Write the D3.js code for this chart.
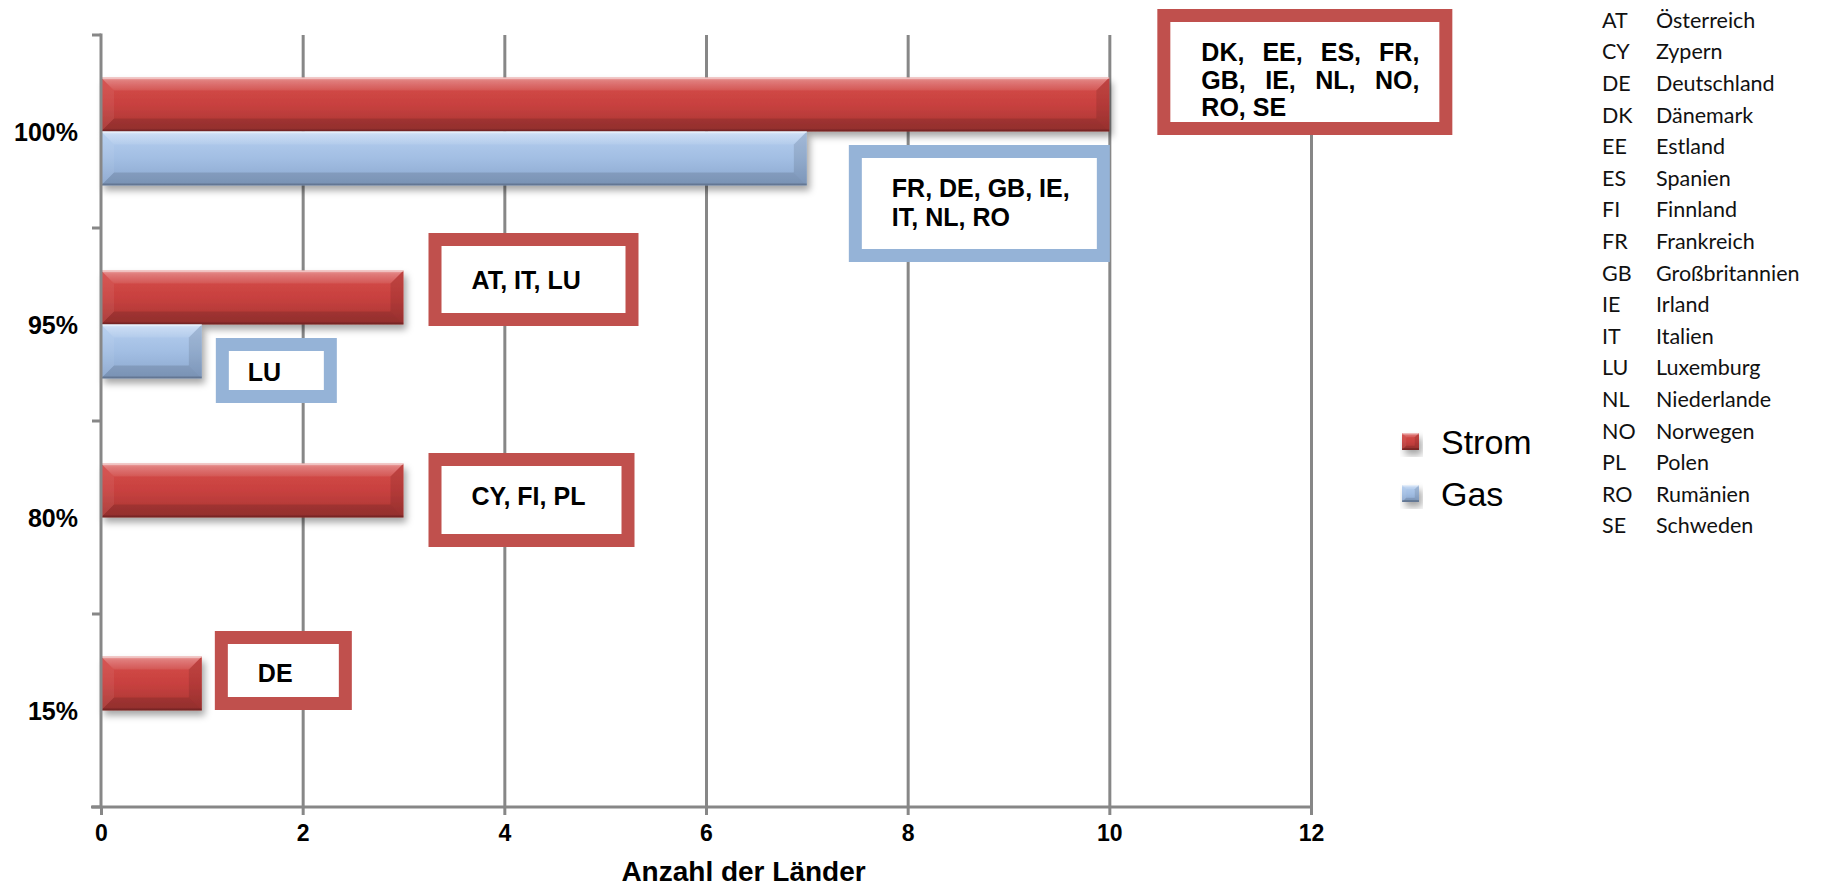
<!DOCTYPE html>
<html>
<head>
<meta charset="utf-8">
<script src="https://cdn.jsdelivr.net/npm/d3@7"></script>
<style>
  body { margin: 0; background: #ffffff; }
  svg { display: block; }
</style>
</head>
<body>
<svg id="chart" width="1823" height="888"></svg>
<script>
// ---- data ----
const categories = ["100%", "95%", "80%", "15%"];
const seriesNames = ["Strom", "Gas"];
const stromValues = [10, 3, 3, 1];
const gasValues = [7, 1, 0, 0];
const xTicks = [0, 2, 4, 6, 8, 10, 12];
const xTitle = "Anzahl der Länder";

// country groups written next to each bar (null = no label)
const stromLabels = [
  ["DK, EE, ES, FR,", "GB, IE, NL, NO,", "RO, SE"],
  ["AT, IT, LU"],
  ["CY, FI, PL"],
  ["DE"]
];
const gasLabels = [
  ["FR, DE, GB, IE,", "IT, NL, RO"],
  ["LU"],
  null,
  null
];

const countryCodes = ["AT", "CY", "DE", "DK", "EE", "ES", "FI", "FR", "GB", "IE", "IT", "LU", "NL", "NO", "PL", "RO", "SE"];
const countryNames = ["Österreich", "Zypern", "Deutschland", "Dänemark", "Estland", "Spanien", "Finnland", "Frankreich",
  "Großbritannien", "Irland", "Italien", "Luxemburg", "Niederlande", "Norwegen", "Polen", "Rumänien", "Schweden"];

// ---- layout & style ----
const plot = { left: 101, right: 1311, top: 35, bottom: 807 };
const axisColor = "#878787";
const boldFont = "'Liberation Sans', Arial, sans-serif";
const palette = {
  Strom: { body: ["#d64d4a", "#c8413f", "#a63533"], box: "#c0504d" },
  Gas:   { body: ["#b6cff0", "#a2bee3", "#8aa6cd"], box: "#95b3d7" }
};
// annotation boxes: offsets from bar end / band top, in px
const boxLayout = {
  "Strom|100%": { dx: 48, dy: -26, w: 295, h: 126, tx: 44, ty: 43, lh: 27.5, justify: 218 },
  "Gas|100%":   { dx: 42, dy: 110, w: 261, h: 117, tx: 43, ty: 43, lh: 29 },
  "Strom|95%":  { dx: 25, dy: 5,   w: 210, h: 93,  tx: 43, ty: 47 },
  "Gas|95%":    { dx: 14, dy: 110, w: 121, h: 65,  tx: 32, ty: 34 },
  "Strom|80%":  { dx: 25, dy: 32,  w: 206, h: 94,  tx: 43, ty: 43 },
  "Strom|15%":  { dx: 13, dy: 17,  w: 137, h: 79,  tx: 43, ty: 42 }
};

const svg = d3.select("#chart");
const defs = svg.append("defs");

const x = d3.scaleLinear().domain([0, 12]).range([plot.left, plot.right]);
const y = d3.scaleBand().domain(categories).range([plot.top, plot.bottom]);
const ys = d3.scaleBand().domain(seriesNames).range([0, y.bandwidth()]).paddingInner(0).paddingOuter(0.787);

// gradients
seriesNames.forEach(s => {
  const g = defs.append("linearGradient").attr("id", "body-" + s)
    .attr("x1", 0).attr("y1", 0).attr("x2", 0).attr("y2", 1);
  palette[s].body.forEach((c, i) => g.append("stop").attr("offset", i / 2).attr("stop-color", c));
});
const hl = defs.append("linearGradient").attr("id", "hilite").attr("x1", 0).attr("y1", 0).attr("x2", 0).attr("y2", 1);
hl.append("stop").attr("offset", 0).attr("stop-color", "#fff").attr("stop-opacity", 0.55);
hl.append("stop").attr("offset", 0.25).attr("stop-color", "#fff").attr("stop-opacity", 0.28);
hl.append("stop").attr("offset", 1).attr("stop-color", "#fff").attr("stop-opacity", 0.08);

const shadow = defs.append("filter").attr("id", "shadow")
  .attr("x", "-10%").attr("y", "-20%").attr("width", "130%").attr("height", "160%");
shadow.append("feDropShadow").attr("dx", 3).attr("dy", 5).attr("stdDeviation", 3.5)
  .attr("flood-color", "#000").attr("flood-opacity", 0.35);

// ---- gridlines ----
svg.append("g")
  .attr("transform", `translate(0,${plot.bottom})`)
  .call(d3.axisBottom(x).tickValues(xTicks.filter(v => v > 0)).tickSize(-(plot.bottom - plot.top)).tickFormat(""))
  .call(g => g.select(".domain").remove())
  .call(g => g.selectAll("line").attr("stroke", axisColor).attr("stroke-width", 3));

// ---- bars ----
function bevelBar(g, x0, y0, w, h, s) {
  const b = Math.min(13, w / 2, h / 4);
  const grp = g.append("g").attr("transform", `translate(${x0},${y0})`);
  grp.append("rect").attr("width", w).attr("height", h)
    .attr("fill", `url(#body-${s})`).attr("filter", "url(#shadow)");
  const poly = (pts, fill, op) => grp.append("polygon")
    .attr("points", pts.map(p => p.join(",")).join(" ")).attr("fill", fill).attr("fill-opacity", op);
  poly([[0, 0], [w, 0], [w - b, b], [b, b]], "url(#hilite)", 1);
  poly([[0, 0], [b, b], [b, h - b], [0, h]], "#fff", 0.06);
  poly([[w, 0], [w, h], [w - b, h - b], [w - b, b]], "#000", 0.1);
  poly([[0, h], [w, h], [w - b, h - b], [b, h - b]], "#000", 0.12);
  grp.append("rect").attr("width", w).attr("height", 1.5).attr("fill", "#fff").attr("fill-opacity", 0.35);
  grp.append("rect").attr("y", h - 2).attr("width", w).attr("height", 2).attr("fill", "#000").attr("fill-opacity", 0.18);
}

const barData = [];
categories.forEach((c, i) => {
  barData.push({ cat: c, s: "Strom", v: stromValues[i], lines: stromLabels[i] });
  barData.push({ cat: c, s: "Gas", v: gasValues[i], lines: gasLabels[i] });
});

const barsG = svg.append("g");
barData.filter(d => d.v > 0).forEach(d => {
  bevelBar(barsG, x(0), y(d.cat) + ys(d.s), x(d.v) - x(0), ys.bandwidth(), d.s);
});

// ---- axes ----
const axG = svg.append("g").attr("transform", `translate(0,${plot.bottom})`)
  .call(d3.axisBottom(x).tickValues(xTicks).tickSize(8).tickPadding(10).tickSizeOuter(0));
axG.select(".domain").attr("stroke", axisColor).attr("stroke-width", 3).attr("d", `M${plot.left - 10},0H${plot.right}`);
axG.selectAll(".tick line").attr("stroke", axisColor).attr("stroke-width", 3);
axG.selectAll(".tick text").attr("fill", "#000")
  .style("font", `bold 23px ${boldFont}`);

// y axis line + ticks at band boundaries
const yAx = svg.append("g");
yAx.append("line").attr("x1", plot.left).attr("x2", plot.left)
  .attr("y1", plot.top - 1.5).attr("y2", plot.bottom)
  .attr("stroke", axisColor).attr("stroke-width", 3);
const bounds = categories.map(c => y(c)).concat([y.range()[1]]);
yAx.selectAll(".yt").data(bounds).join("line")
  .attr("x1", plot.left - 9).attr("x2", plot.left)
  .attr("y1", d => d).attr("y2", d => d)
  .attr("stroke", axisColor).attr("stroke-width", 3);
yAx.selectAll(".yl").data(categories).join("text")
  .attr("x", 78).attr("y", d => y(d) + y.bandwidth() / 2 + 9)
  .attr("text-anchor", "end").attr("fill", "#000")
  .style("font", `bold 25px ${boldFont}`)
  .text(d => d);

svg.append("text").attr("x", x(0) + (x(12) - x(0)) * 0.531).attr("y", 881)
  .attr("text-anchor", "middle").attr("fill", "#000")
  .style("font", `bold 28px ${boldFont}`)
  .text(xTitle);

// ---- annotation boxes ----
const boxG = svg.append("g");
barData.filter(d => d.lines).forEach(d => {
  const L = boxLayout[d.s + "|" + d.cat];
  const bx = x(d.v) + L.dx, by = y(d.cat) + L.dy;
  const g = boxG.append("g").attr("transform", `translate(${bx},${by})`);
  g.append("rect").attr("x", 6.5).attr("y", 6.5).attr("width", L.w - 13).attr("height", L.h - 13)
    .attr("fill", "#fff").attr("stroke", palette[d.s].box).attr("stroke-width", 13);
  d.lines.forEach((t, k) => {
    const ty = L.ty + k * (L.lh || 0) + 9;
    if (L.justify && k < d.lines.length - 1) {
      // spread the words evenly across the line
      const words = t.split(" ");
      const nodes = words.map(wd => g.append("text").attr("y", ty).attr("fill", "#000")
        .style("font", `bold 25px ${boldFont}`).text(wd));
      const widths = nodes.map(n => n.node().getComputedTextLength());
      const gap = (L.justify - d3.sum(widths)) / (words.length - 1);
      let cx = L.tx;
      nodes.forEach((n, j) => { n.attr("x", cx); cx += widths[j] + gap; });
    } else {
      g.append("text").attr("x", L.tx).attr("y", ty)
        .attr("fill", "#000").style("font", `bold 25px ${boldFont}`).text(t);
    }
  });
});

// ---- legend ----
const lg = svg.append("g");
seriesNames.forEach((s, i) => {
  const yy = 433 + i * 52;
  bevelBar(lg, 1402, yy, 17, 17, s);
  lg.append("text").attr("x", 1441).attr("y", yy + 8.5 + 12)
    .attr("fill", "#000").style("font", "34px 'Liberation Sans', Arial, sans-serif").text(s);
});

// ---- country key ----
const key = svg.append("g").style("font", "21.5px Lato, 'Open Sans', sans-serif").attr("fill", "#111");
countryCodes.forEach((c, i) => {
  const yy = 20 + i * 31.6 + 7.7;
  key.append("text").attr("x", 1602).attr("y", yy).text(c);
  key.append("text").attr("x", 1656).attr("y", yy).text(countryNames[i]);
});
</script>
</body>
</html>
